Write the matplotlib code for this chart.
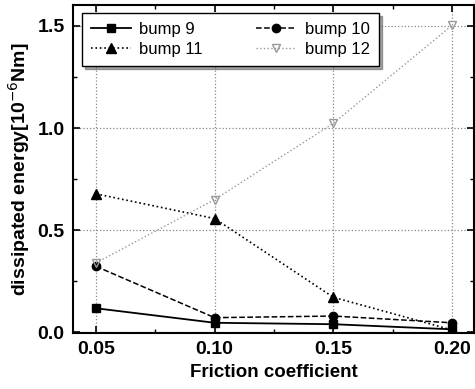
import numpy as np
from matplotlib import pyplot as plt
from matplotlib.ticker import MultipleLocator

plt.rcParams['font.family'] = ['Liberation Sans', 'DejaVu Sans']

friction = [0.05, 0.10, 0.15, 0.20]
bump9 = [0.118, 0.047, 0.040, 0.015]
bump10 = [0.323, 0.072, 0.080, 0.047]
bump11 = [0.678, 0.557, 0.172, 0.012]
bump12 = [0.340, 0.650, 1.023, 1.502]

fig = plt.figure(figsize=(4.75, 3.89), dpi=100)
ax = fig.add_axes([73/475, 1-333/389, 401/475, 328/389])

l9, = ax.plot(friction, bump9, '-', color='k', marker='s', ms=6, lw=1.3, label='bump 9')
l10, = ax.plot(friction, bump10, '--', color='k', marker='o', ms=6, lw=1.1, label='bump 10')
l11, = ax.plot(friction, bump11, ':', color='k', marker='^', ms=7, lw=1.2, label='bump 11')
l12, = ax.plot(friction, bump12, ':', color='#999999', marker='v', ms=6, lw=1.0,
               mfc='none', mec='#999999', label='bump 12')

ax.set_xlim(0.0403, 0.2093)
ax.set_ylim(-0.003, 1.602)
ax.set_xticks(friction)
ax.set_xticklabels(['0.05', '0.10', '0.15', '0.20'])
ax.set_yticks([0.0, 0.5, 1.0, 1.5])
ax.xaxis.set_minor_locator(MultipleLocator(0.025))
ax.yaxis.set_minor_locator(MultipleLocator(0.25))
ax.tick_params(which='both', direction='in', top=True, right=True)
ax.tick_params(which='major', length=5, width=1.2, labelsize=14, pad=6)
ax.tick_params(which='minor', length=3, width=1.0)
for lbl in ax.get_xticklabels() + ax.get_yticklabels():
    lbl.set_fontweight('bold')
ax.grid(True, which='major', linestyle=':', color='#888888', lw=0.9)
for s in ax.spines.values():
    s.set_linewidth(1.5)

ax.set_xlabel('Friction coefficient', fontsize=13.5, fontweight='bold', labelpad=4)
ax.set_ylabel(r'dissipated energy[10$^{-6}$Nm]', fontsize=14, fontweight='bold', labelpad=4)

leg = ax.legend([l9, l11, l10, l12], ['bump 9', 'bump 11', 'bump 10', 'bump 12'],
                loc='upper left', ncol=2, bbox_to_anchor=(0.022, 0.976), borderaxespad=0,
                fontsize=12, frameon=True, fancybox=False, shadow=True, handlelength=2.4,
                columnspacing=3.2, borderpad=0.55, labelspacing=0.3, handletextpad=0.5)
leg.get_frame().set_edgecolor('k')
leg.get_frame().set_linewidth(1.0)

fig.savefig('out.png', dpi=100)
